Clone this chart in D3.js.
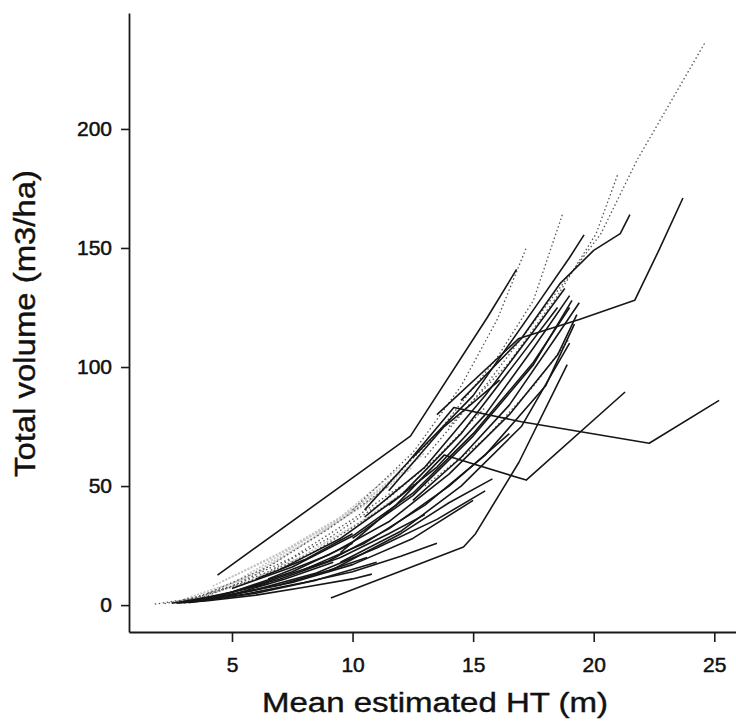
<!DOCTYPE html>
<html>
<head>
<meta charset="utf-8">
<script src="https://cdn.jsdelivr.net/npm/d3@7"></script>
<style>
  body { margin: 0; background: #fff; }
  svg text { font-family: "Liberation Sans", Arial, sans-serif; }
</style>
</head>
<body>
<div id="chart"></div>
<script>
// tick labels
var xTicks = [5, 10, 15, 20, 25];
var yTicks = [0, 50, 100, 150, 200];

// one trajectory per plot: [mean HT (m), total volume (m3/ha)]
var solidPlots = [
  [[4.4,12.6],[12.4,71],[15.6,121],[16.8,141]],
  [[10.5,40],[12.3,60],[14.2,83],[17.0,77],[22.3,68],[25.2,86]],
  [[9.5,22],[11.8,42],[13.8,63],[17.2,52.5],[21.3,89.5]],
  [[9.1,3],[14.6,24.4],[15.1,30],[16.9,60],[18.9,101]],
  [[13.5,80],[16.9,112],[19.4,120],[21.7,128],[22.7,149],[23.7,171]],
  [[14.5,86],[17.0,112],[18.6,135],[20.0,149],[21.1,156],[21.5,164]],
  [[12.5,62],[15.0,88],[17.5,124],[19.0,146],[19.6,155.5]],
  [[9.0,14],[12.0,30],[14.0,43],[15.8,53]],
  [[11.5,48],[13.8,75],[15.0,85],[16.1,94.5]],
  [[2.7,0.8],[4,1.8],[6,4.2],[8,7.5],[10,11],[10.8,13]],
  [[3,1],[5,4.3],[7,8.5],[9,14.5],[10.6,20]],
  [[3.2,1],[5.5,4.5],[8,9.5],[10,14],[12,20.5],[13.5,26]],
  [[2.5,0.8],[4.5,4],[7,11],[9.5,20],[11.5,30],[13,38]],
  [[3.5,1.5],[6,6.5],[8.5,13.5],[11,24],[13.5,36],[15.5,48]],
  [[4,2.5],[6.5,10],[9,18.5],[11.5,32],[14,50],[16.5,72]],
  [[3,1.3],[5,5.5],[7.5,14],[10,26]],
  [[5,7],[7.5,16],[10,29],[12.5,47],[15,72],[17.5,102],[19,125]],
  [[6.5,11],[9,21],[11.5,35],[14,55],[16.5,80],[18.5,105],[19.3,122]],
  [[8,15],[10.5,26],[13,42],[15.5,63],[18,92],[19.2,118]],
  [[9.5,18],[12,31],[14.5,50],[17,75],[19,110]],
  [[10,28],[12.5,46],[15,71],[17.5,101],[19.1,128]],
  [[7,15],[9.5,28],[12,46],[14.5,72],[17,105],[18.5,125]],
  [[11.5,42],[13.5,58],[15.5,80],[17.5,108],[19,130]],
  [[5,4.5],[7.5,9.5],[10,17],[12.5,28],[15,44]],
  [[3.8,1.8],[6,5],[8.5,10.5],[11,18]],
  [[2.8,1],[4.5,4.2],[6.5,9]],
  [[10.5,37],[13,58],[15.5,88],[17.5,115],[18.8,133]],
  [[6,11],[8,19],[10,30]],
  [[12.5,44],[14.5,62],[16.5,84],[18.4,112],[19.4,127]],
  [[3.3,1.3],[5.2,5],[7.2,11],[9.2,18]]
];

var dottedPlots = [
  [[1.8,0.4],[3.5,3],[6,11],[8.5,23],[11,39],[13,54]],
  [[2.2,0.6],[4,4],[6.5,14],[9,28],[11.5,45],[13.5,62],[15.5,83]],
  [[3,2],[5,8],[7.5,20],[10,36],[12,50]],
  [[10,40],[12.5,64],[14.5,92],[16,120],[17.2,150]],
  [[11,46],[13.5,72],[16,104],[17.5,128],[18.1,146],[18.7,164]],
  [[13,62],[15.5,92],[18.2,128],[20.3,156],[21.8,187],[24.6,236]],
  [[14,75],[16.5,102],[18.5,130],[20.1,156],[21.0,181]],
  [[4,5],[6.5,16],[9,32],[11.5,50]],
  [[13,50],[15.5,70],[17.5,92],[19,112]]
];

var faintPlots = [
  [[3,2.5],[5.5,11],[8,26],[10.5,42],[12.5,58]],
  [[3.5,2.8],[6,13],[8.5,29],[11,46]],
  [[4.6,10],[7,22],[9.5,37],[12,58]],
  [[4.2,8],[6.5,19],[9,33],[11.5,51],[13,64]],
  [[5,9],[7.5,24],[10,40],[12,56]],
  [[3.2,2],[5.5,9],[8,21],[10.5,36],[12.5,50]]
];

var width = 736, height = 725;
var svg = d3.select('#chart').append('svg')
  .attr('width', width).attr('height', height);

var x = d3.scaleLinear().domain([0.73, 25.9]).range([129, 736]);
var y = d3.scaleLinear().domain([-11.3, 248.7]).range([632, 13]);

var line = d3.line()
  .x(function(d){ return x(d[0]); })
  .y(function(d){ return y(d[1]); });

var plotArea = svg.append('g');

plotArea.selectAll('path.faint')
  .data(faintPlots).enter().append('path')
  .attr('class', 'faint')
  .attr('d', line)
  .attr('fill', 'none')
  .attr('stroke', '#c4c4c4')
  .attr('stroke-width', 1.6)
  .attr('stroke-dasharray', '2,1.5');

plotArea.selectAll('path.dotted')
  .data(dottedPlots).enter().append('path')
  .attr('class', 'dotted')
  .attr('d', line)
  .attr('fill', 'none')
  .attr('stroke', '#555')
  .attr('stroke-width', 1.3)
  .attr('stroke-dasharray', '1.5,2.5');

plotArea.selectAll('path.solid')
  .data(solidPlots).enter().append('path')
  .attr('class', 'solid')
  .attr('d', line)
  .attr('fill', 'none')
  .attr('stroke', '#161616')
  .attr('stroke-width', 1.6)
  .attr('stroke-linejoin', 'round');

// axes
var yAxis = svg.append('g')
  .attr('transform', 'translate(129,0)')
  .call(d3.axisLeft(y).tickValues(yTicks).tickSize(8).tickPadding(9).tickSizeOuter(0));

var xAxis = svg.append('g')
  .attr('transform', 'translate(0,632)')
  .call(d3.axisBottom(x).tickValues(xTicks).tickSize(10).tickPadding(15).tickSizeOuter(0));

[yAxis, xAxis].forEach(function(a){
  a.select('.domain').attr('stroke', '#1a1a1a').attr('stroke-width', 1.8);
  a.selectAll('.tick line').attr('stroke', '#1a1a1a').attr('stroke-width', 1.6);
  a.selectAll('.tick text')
    .attr('font-size', 21)
    .attr('fill', '#111')
    .attr('stroke', '#111')
    .attr('stroke-width', 0.5)
    .style('font-family', '"Liberation Sans", Arial, sans-serif');
});

// axis titles
svg.append('text')
  .attr('x', 435).attr('y', 712)
  .attr('text-anchor', 'middle')
  .attr('font-size', 27)
  .attr('fill', '#111')
  .attr('stroke', '#111')
  .attr('stroke-width', 0.4)
  .attr('textLength', 346)
  .attr('lengthAdjust', 'spacingAndGlyphs')
  .text('Mean estimated HT (m)');

svg.append('text')
  .attr('transform', 'translate(35,323.5) rotate(-90)')
  .attr('text-anchor', 'middle')
  .attr('font-size', 30)
  .attr('fill', '#111')
  .attr('stroke', '#111')
  .attr('stroke-width', 0.4)
  .attr('textLength', 307)
  .attr('lengthAdjust', 'spacingAndGlyphs')
  .text('Total volume (m3/ha)');
</script>
</body>
</html>
